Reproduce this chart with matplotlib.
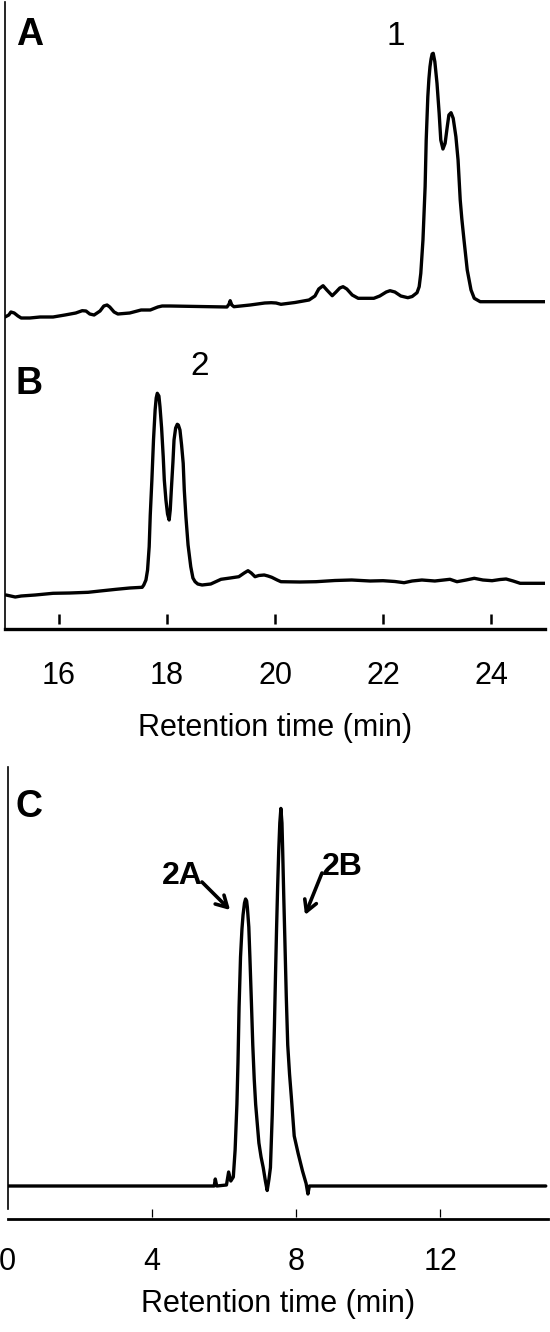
import matplotlib
matplotlib.use("Agg")
import matplotlib.pyplot as plt

plt.rcParams['font.family'] = ['Liberation Sans', 'DejaVu Sans']

# ---------------- data ----------------
# Trace A (upper chromatogram): retention time (min), signal (a.u.)
tA = [15.00, 15.07, 15.11, 15.17, 15.24, 15.30, 15.46, 15.65, 15.89, 16.11, 16.31,
      16.43, 16.50, 16.57, 16.65, 16.76, 16.83, 16.89, 16.94, 17.02, 17.09, 17.31,
      17.52, 17.69, 17.83, 17.91, 18.06, 19.11, 19.15, 19.17, 19.20, 19.24, 19.54,
      19.81, 19.93, 20.02, 20.11, 20.37, 20.63, 20.74, 20.81, 20.89, 20.96, 21.06,
      21.13, 21.20, 21.26, 21.33, 21.43, 21.54, 21.83, 21.94, 22.06, 22.13, 22.22,
      22.33, 22.46, 22.54, 22.63, 22.67, 22.70, 22.74, 22.78, 22.80, 22.83, 22.85,
      22.87, 22.89, 22.91, 22.93, 22.96, 23.00, 23.04, 23.07, 23.11, 23.15, 23.19,
      23.22, 23.26, 23.30, 23.35, 23.39, 23.43, 23.46, 23.50, 23.56, 23.63, 23.69,
      23.80, 25.00]
yA = [312, 314, 317, 316, 313, 311, 311, 312, 312, 314, 316,
      318.3, 318, 315, 314, 318, 323, 324, 322, 317, 315, 316,
      319, 319, 322, 323, 323, 322, 325, 328.3, 324, 322.3, 324,
      326, 326.3, 326, 324.7, 326.5, 329, 333, 340, 343.3, 339, 333.3,
      337, 341, 342.3, 340, 334, 330.7, 330.7, 333, 337, 338.3, 337,
      333, 331.3, 332.5, 336.3, 342.3, 355.7, 389, 442.3, 489, 532.3, 550,
      562.3, 570, 575, 575.7, 567.3, 545.7, 515.7, 489, 480, 485.7, 502.3,
      514, 516.3, 510.7, 492.3, 469, 429, 410, 389, 359, 339, 330.7,
      327.3, 327.3]

# Trace B (lower chromatogram of the upper panel)
tB = [15.02, 15.19, 15.30, 15.56, 15.89, 16.20, 16.54, 16.76, 17.06, 17.31, 17.54,
      17.57, 17.61, 17.64, 17.67, 17.69, 17.72, 17.75, 17.78, 17.80, 17.82, 17.85,
      17.87, 17.90, 17.93, 17.95, 17.98, 18.01, 18.04, 18.06, 18.08, 18.11, 18.13,
      18.16, 18.19, 18.21, 18.24, 18.27, 18.30, 18.32, 18.35, 18.39, 18.44, 18.48,
      18.52, 18.57, 18.65, 18.81, 19.00, 19.17, 19.33, 19.43, 19.50, 19.56, 19.63,
      19.70, 19.80, 19.87, 19.94, 20.04, 20.11, 20.46, 20.76, 21.11, 21.42, 21.76,
      22.00, 22.22, 22.39, 22.54, 22.72, 22.96, 23.24, 23.37, 23.54, 23.69, 23.85,
      24.02, 24.17, 24.28, 24.41, 24.54, 25.00]
yB = [34, 32, 33, 34, 35.7, 36, 36.7, 38, 39.7, 41, 41.7,
      44, 49, 59, 82.3, 114, 149, 189, 219, 231, 235.7, 233,
      222.3, 201, 172.3, 149, 129, 115, 109, 119, 139, 167, 189,
      201, 204.7, 204, 199, 184, 165.7, 139, 112.3, 84, 62.3, 51,
      47.3, 45, 44, 45, 49.7, 51, 52.3, 56, 58.3, 56, 52.3,
      53.5, 54, 53, 51.7, 49, 47.3, 47, 47.3, 48.5, 49, 48,
      48.3, 47.5, 46.3, 48, 49, 48, 49.7, 47.3, 49, 50.7, 49,
      48.3, 49.5, 50, 48, 45.7, 45.7]

# Trace C (chiral separation of compound 2)
tC = [0.00, 5.73, 5.76, 5.80, 6.07, 6.13, 6.19, 6.26, 6.31, 6.36, 6.39, 6.42, 6.46,
      6.50, 6.53, 6.57, 6.60, 6.63, 6.65, 6.69, 6.72, 6.76, 6.80, 6.84, 6.88, 6.97,
      7.03, 7.09, 7.15, 7.20, 7.25, 7.29, 7.34, 7.37, 7.40, 7.43, 7.46, 7.49, 7.52,
      7.55, 7.58, 7.61, 7.63, 7.66, 7.69, 7.73, 7.77, 7.82, 7.87, 7.95, 8.06, 8.18,
      8.28, 8.33, 8.37, 14.93]
yC = [33, 33, 40, 33, 34, 47, 38, 42, 69, 115, 157, 212, 262,
      290, 304, 316, 320, 318, 311.5, 292, 262, 219, 174, 140, 114.6, 76,
      62, 51.4, 38, 28.5, 40, 51.4, 104, 148, 192, 243, 290, 332, 368,
      396, 410.6, 396, 368, 322, 280, 222, 174, 145, 122, 83, 65.4, 48,
      35.5, 25, 33, 33]

ticks_top = [16, 18, 20, 22, 24]
ticks_C_labels = [0, 4, 8, 12]
ticks_C_marks = [4, 8, 12]
xlabel = "Retention time (min)"

# ---------------- figure ----------------
W, H = 550, 1332
fig = plt.figure(figsize=(W / 100, H / 100), dpi=100)

def frac(x0, y0, x1, y1):
    # pixel box (left, top, right, bottom) -> figure fraction rect
    return [x0 / W, 1 - y1 / H, (x1 - x0) / W, (y1 - y0) / H]

lw_trace = 2.4
fs_tick = 22
fs_lab = 22

# ---- upper panel (A and B) ----
ax1 = fig.add_axes(frac(5, 2, 545, 629))
ax1.plot(tA, yA, color='black', lw=lw_trace, solid_joinstyle='round', solid_capstyle='round')
ax1.plot(tB, yB, color='black', lw=lw_trace, solid_joinstyle='round', solid_capstyle='round')
ax1.set_xlim(15, 25)
ax1.set_ylim(0, 627)
ax1.set_yticks([])
for s in ('top', 'right'):
    ax1.spines[s].set_visible(False)
ax1.spines['left'].set_linewidth(1.2)
ax1.spines['bottom'].set_linewidth(2.4)
ax1.set_xticks(ticks_top)
ax1.set_xticklabels([str(v) for v in ticks_top])
ax1.tick_params(axis='x', length=0, pad=23, labelsize=fs_tick)
sec1 = ax1.secondary_xaxis(5 / 627)
sec1.spines['bottom'].set_visible(False)
sec1.set_xticks(ticks_top)
sec1.tick_params(axis='x', direction='in', length=7, width=1.8, labelbottom=False)
ax1.set_xlabel(xlabel, fontsize=fs_lab, labelpad=16)

ax1.text(15.2, 594, "A", fontsize=27, fontweight='bold', ha='left', va='center')
ax1.text(22.24, 592, "1", fontsize=24, ha='center', va='center')
ax1.text(15.2, 245, "B", fontsize=27, fontweight='bold', ha='left', va='center')
ax1.text(18.61, 262, "2", fontsize=24, ha='center', va='center')

# ---- panel C ----
ax2 = fig.add_axes(frac(7.7, 767, 548.3, 1219))
ax2.plot(tC, yC, color='black', lw=lw_trace, solid_joinstyle='round', solid_capstyle='round')
ax2.set_xlim(0, 15)
ax2.set_ylim(0, 452)
ax2.set_yticks([])
for s in ('top', 'right'):
    ax2.spines[s].set_visible(False)
ax2.spines['left'].set_linewidth(1.2)
ax2.spines['left'].set_bounds(10, 452)
ax2.spines['bottom'].set_linewidth(2.0)
ax2.set_xticks(ticks_C_labels)
ax2.set_xticklabels([str(v) for v in ticks_C_labels])
ax2.tick_params(axis='x', length=0, pad=20, labelsize=fs_tick)
sec2 = ax2.secondary_xaxis(2 / 452)
sec2.spines['bottom'].set_visible(False)
sec2.set_xticks(ticks_C_marks)
sec2.tick_params(axis='x', direction='in', length=6, width=0.9, labelbottom=False)
ax2.set_xlabel(xlabel, fontsize=fs_lab, labelpad=9)

ax2.text(0.23, 412, "C", fontsize=27, fontweight='bold', ha='left', va='center')
arrow = dict(arrowstyle='->,head_length=0.8,head_width=0.45', lw=2.6, color='black',
             shrinkA=0, shrinkB=0)
ax2.annotate("", xy=(6.17, 309), xytext=(5.39, 337), arrowprops=arrow)
ax2.annotate("", xy=(8.25, 304), xytext=(8.72, 346), arrowprops=arrow)
ax2.text(4.85, 343, "2A", fontsize=23, fontweight='bold', ha='center', va='center')
ax2.text(9.28, 352, "2B", fontsize=23, fontweight='bold', ha='center', va='center')

fig.savefig("out.png", dpi=100)
